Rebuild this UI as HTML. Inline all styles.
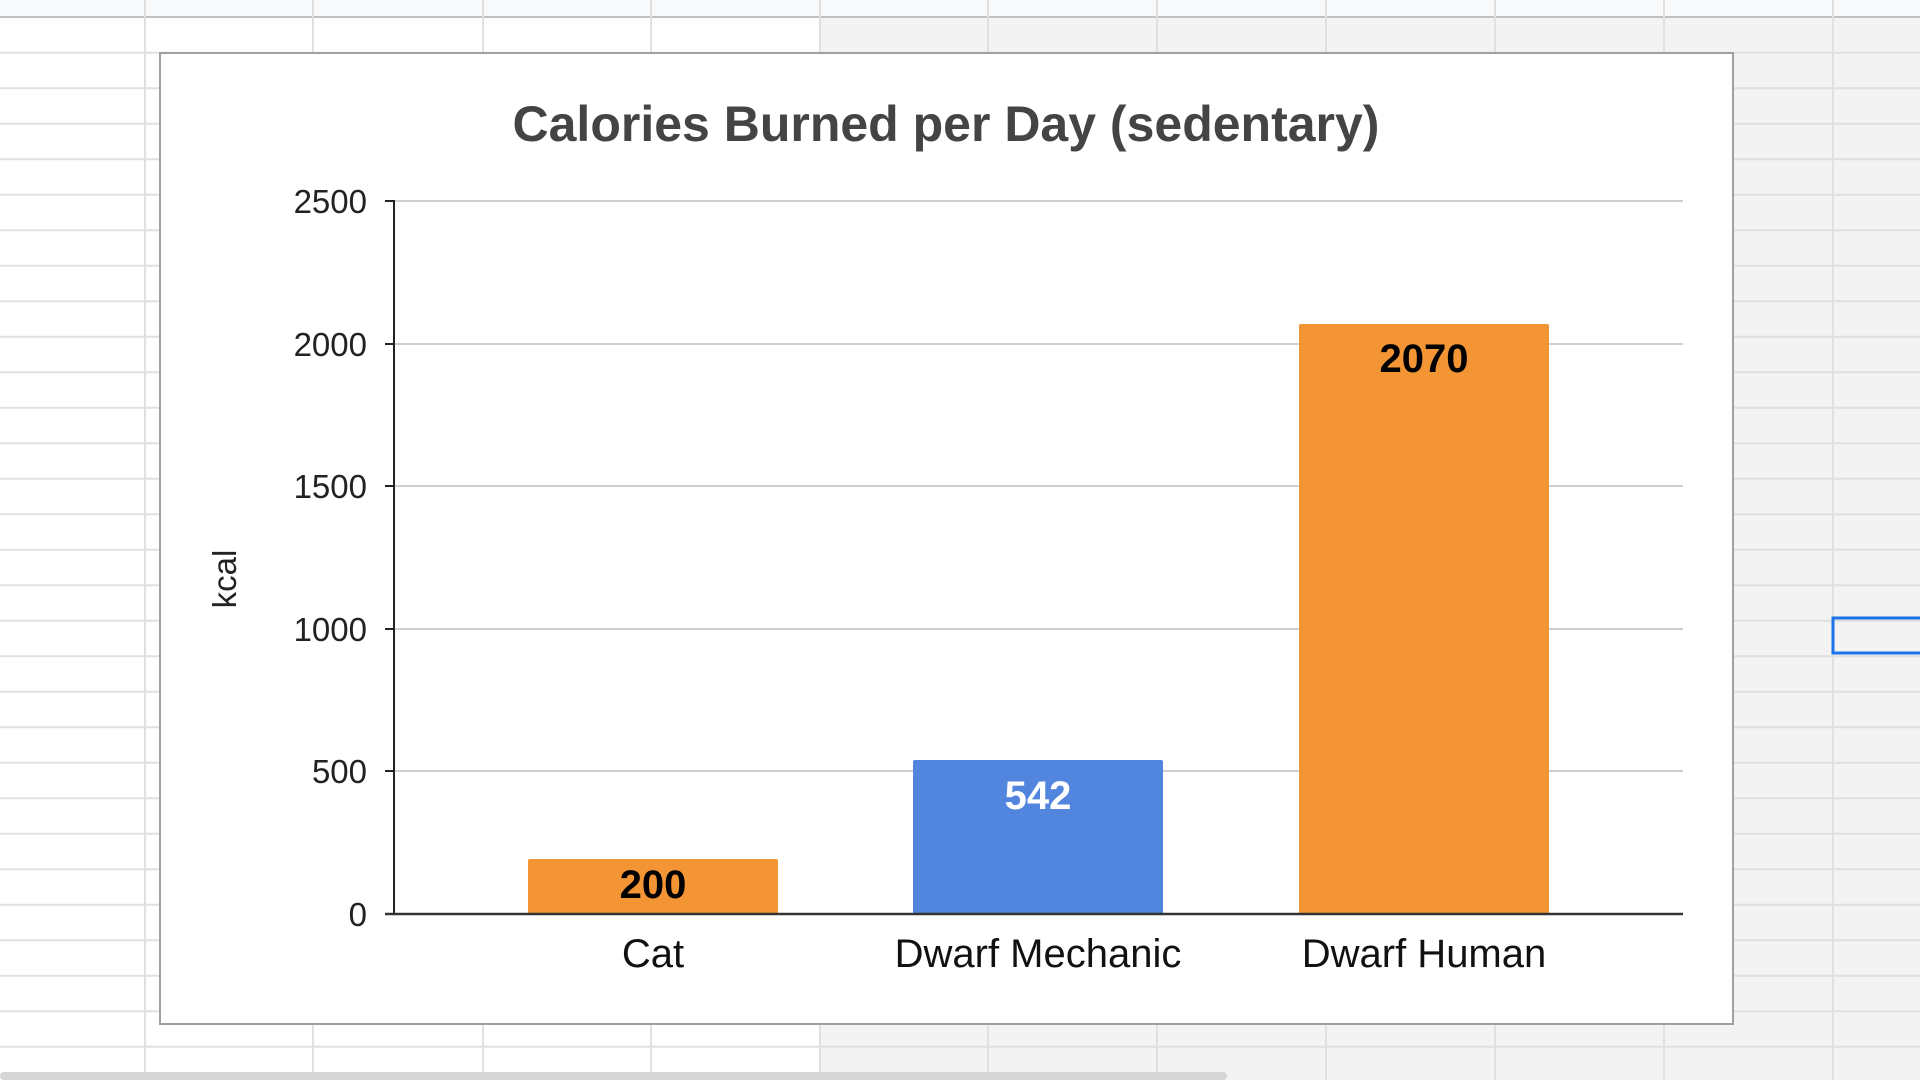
<!DOCTYPE html>
<html><head><meta charset="utf-8"><style>
html,body{margin:0;padding:0;width:1920px;height:1080px;overflow:hidden;background:#fff}
svg{display:block}
text{font-family:"Liberation Sans",Arial,sans-serif}
</style></head><body>
<svg width="1920" height="1080" viewBox="0 0 1920 1080">
<rect x="0" y="0" width="1920" height="1080" fill="#ffffff"/>
<rect x="820" y="18" width="1100" height="1062" fill="#f3f3f3"/>
<rect x="0" y="0" width="1920" height="17" fill="#f8f9fa"/>
<line x1="0" y1="17" x2="1920" y2="17" stroke="#c0c0c0" stroke-width="2"/>
<g stroke="#e0e0e0" stroke-width="2">
<line x1="145" y1="0" x2="145" y2="1080"/><line x1="313" y1="0" x2="313" y2="1080"/>
<line x1="483" y1="0" x2="483" y2="1080"/><line x1="651" y1="0" x2="651" y2="1080"/>
<line x1="820" y1="0" x2="820" y2="1080"/><line x1="988" y1="0" x2="988" y2="1080"/>
<line x1="1157" y1="0" x2="1157" y2="1080"/><line x1="1326" y1="0" x2="1326" y2="1080"/>
<line x1="1495" y1="0" x2="1495" y2="1080"/><line x1="1664" y1="0" x2="1664" y2="1080"/>
<line x1="1833" y1="0" x2="1833" y2="1080"/>
</g>
<g stroke="#e0e0e0" stroke-width="2">
<line x1="0" y1="52.7" x2="1920" y2="52.7"/><line x1="0" y1="88.2" x2="1920" y2="88.2"/>
<line x1="0" y1="123.7" x2="1920" y2="123.7"/><line x1="0" y1="159.2" x2="1920" y2="159.2"/>
<line x1="0" y1="194.7" x2="1920" y2="194.7"/><line x1="0" y1="230.2" x2="1920" y2="230.2"/>
<line x1="0" y1="265.7" x2="1920" y2="265.7"/><line x1="0" y1="301.2" x2="1920" y2="301.2"/>
<line x1="0" y1="336.7" x2="1920" y2="336.7"/><line x1="0" y1="372.2" x2="1920" y2="372.2"/>
<line x1="0" y1="407.7" x2="1920" y2="407.7"/><line x1="0" y1="443.2" x2="1920" y2="443.2"/>
<line x1="0" y1="478.7" x2="1920" y2="478.7"/><line x1="0" y1="514.2" x2="1920" y2="514.2"/>
<line x1="0" y1="549.7" x2="1920" y2="549.7"/><line x1="0" y1="585.2" x2="1920" y2="585.2"/>
<line x1="0" y1="620.7" x2="1920" y2="620.7"/><line x1="0" y1="656.2" x2="1920" y2="656.2"/>
<line x1="0" y1="691.7" x2="1920" y2="691.7"/><line x1="0" y1="727.2" x2="1920" y2="727.2"/>
<line x1="0" y1="762.7" x2="1920" y2="762.7"/><line x1="0" y1="798.2" x2="1920" y2="798.2"/>
<line x1="0" y1="833.7" x2="1920" y2="833.7"/><line x1="0" y1="869.2" x2="1920" y2="869.2"/>
<line x1="0" y1="904.7" x2="1920" y2="904.7"/><line x1="0" y1="940.2" x2="1920" y2="940.2"/>
<line x1="0" y1="975.7" x2="1920" y2="975.7"/><line x1="0" y1="1011.2" x2="1920" y2="1011.2"/>
<line x1="0" y1="1046.7" x2="1920" y2="1046.7"/>
</g>
<rect x="1833" y="618" width="90" height="35" fill="none" stroke="#1a73e8" stroke-width="3"/>
<rect x="0" y="1072" width="1227" height="8" rx="4" fill="#d6d6d6"/>

<rect x="160" y="53" width="1573" height="971" fill="#ffffff" stroke="#a0a0a0" stroke-width="2"/>
<text x="946" y="141" text-anchor="middle" font-size="50" font-weight="bold" fill="#444">Calories Burned per Day (sedentary)</text>
<g stroke="#d0d0d0" stroke-width="2">
<line x1="394" y1="201" x2="1683" y2="201"/><line x1="394" y1="344" x2="1683" y2="344"/>
<line x1="394" y1="486" x2="1683" y2="486"/><line x1="394" y1="629" x2="1683" y2="629"/>
<line x1="394" y1="771" x2="1683" y2="771"/>
</g>
<g stroke="#222" stroke-width="2">
<line x1="385" y1="201" x2="394" y2="201"/><line x1="385" y1="344" x2="394" y2="344"/>
<line x1="385" y1="486" x2="394" y2="486"/><line x1="385" y1="629" x2="394" y2="629"/>
<line x1="385" y1="771" x2="394" y2="771"/><line x1="385" y1="914" x2="394" y2="914"/>
</g>
<g font-size="33" fill="#222" text-anchor="end">
<text x="367" y="213">2500</text><text x="367" y="356">2000</text><text x="367" y="498">1500</text>
<text x="367" y="641">1000</text><text x="367" y="783">500</text><text x="367" y="926">0</text>
</g>
<text transform="translate(236,579) rotate(-90)" text-anchor="middle" font-size="33" fill="#222">kcal</text>
<rect x="528" y="859" width="250" height="55" rx="2" fill="#f39534"/>
<rect x="913" y="760" width="250" height="154" rx="2" fill="#5285dd"/>
<rect x="1299" y="324" width="250" height="590" rx="2" fill="#f39534"/>
<line x1="394" y1="200" x2="394" y2="915" stroke="#222" stroke-width="2"/>
<line x1="385" y1="914" x2="1683" y2="914" stroke="#333" stroke-width="2.5"/>
<g font-size="40" font-weight="bold" text-anchor="middle">
<text x="653" y="898" fill="#000">200</text>
<text x="1038" y="809" fill="#fff">542</text>
<text x="1424" y="372" fill="#000">2070</text>
</g>
<g font-size="40" fill="#111" text-anchor="middle">
<text x="653" y="967">Cat</text>
<text x="1038" y="967">Dwarf Mechanic</text>
<text x="1424" y="967">Dwarf Human</text>
</g>
</svg>
</body></html>
